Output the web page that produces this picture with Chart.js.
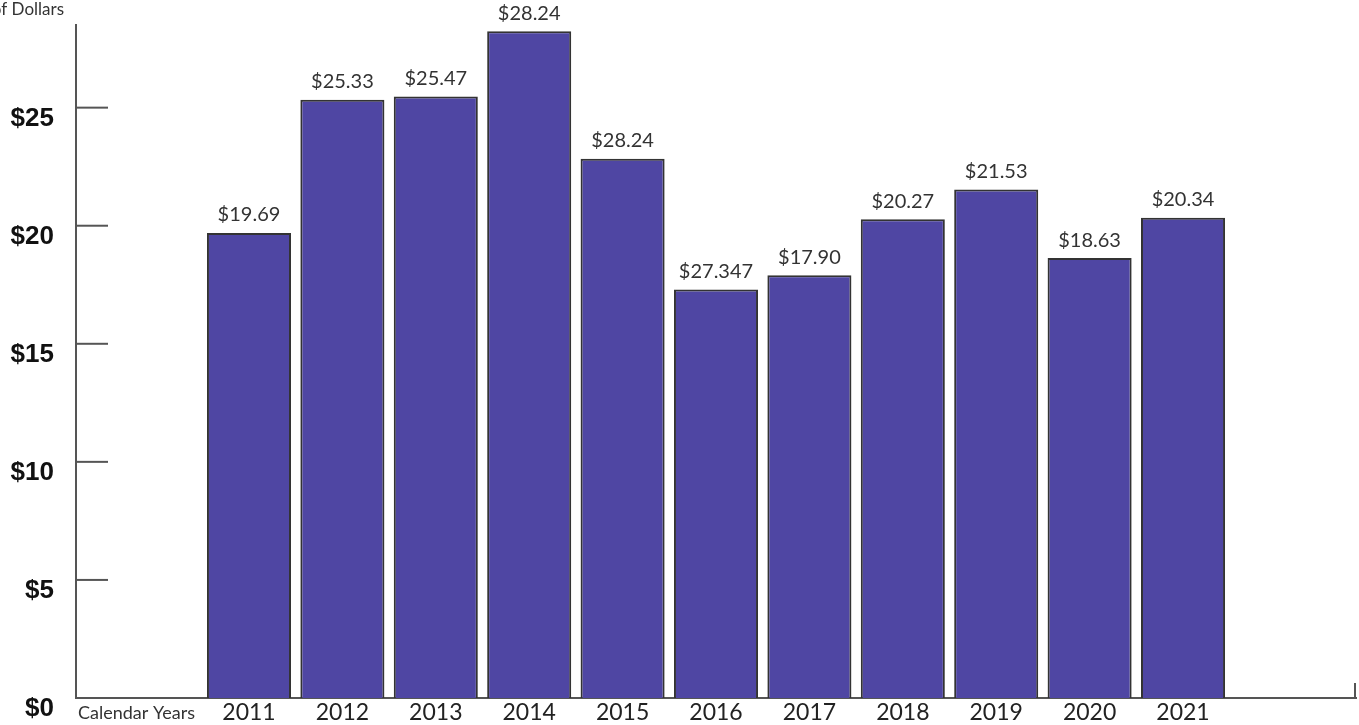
<!DOCTYPE html>
<html>
<head>
<meta charset="utf-8">
<script src="https://cdn.jsdelivr.net/npm/chart.js@4"></script>
<style>
  html, body { margin: 0; padding: 0; background: #fff; overflow: hidden; }
  #wrap { width: 1359px; height: 725px; }
</style>
</head>
<body>
<div id="wrap"><canvas id="grafico"></canvas></div>
<script>
// Datos del gráfico
const years = [2011, 2012, 2013, 2014, 2015, 2016, 2017, 2018, 2019, 2020, 2021];
const values = [19.69, 25.33, 25.47, 28.24, 22.84, 17.30, 17.90, 20.27, 21.53, 18.63, 20.34];
// etiquetas tal como aparecen sobre cada barra
const barLabels = ['$19.69', '$25.33', '$25.47', '$28.24', '$28.24', '$27.347', '$17.90', '$20.27', '$21.53', '$18.63', '$20.34'];
const yTicks = [0, 5, 10, 15, 20, 25];

const axisColor = '#555';

// ticks hacia adentro, etiquetas de barras y textos sueltos
const extras = {
    id: 'extras',
    afterDraw(chart) {
        const ctx = chart.ctx;
        const area = chart.chartArea;
        const yScale = chart.scales.y;
        ctx.save();
        ctx.strokeStyle = axisColor;
        ctx.lineWidth = 2;
        yTicks.forEach(v => {
            if (v === 0) return;
            const py = yScale.getPixelForValue(v);
            ctx.beginPath();
            ctx.moveTo(area.left, py);
            ctx.lineTo(area.left + 32, py);
            ctx.stroke();
        });
        // marca final del eje x
        ctx.beginPath();
        ctx.moveTo(area.right - 1, area.bottom);
        ctx.lineTo(area.right - 1, area.bottom - 15);
        ctx.stroke();

        // valores sobre las barras
        ctx.fillStyle = '#333';
        ctx.font = '20px Lato';
        ctx.textAlign = 'center';
        ctx.textBaseline = 'bottom';
        chart.getDatasetMeta(0).data.forEach((bar, i) => {
            ctx.fillText(barLabels[i], bar.x, bar.y - 8);
        });

        // titulos
        ctx.font = '18px Lato';
        ctx.textAlign = 'left';
        ctx.textBaseline = 'alphabetic';
        ctx.fillText('Calendar Years', area.left + 2, 719);
        ctx.font = '17px Lato';
        ctx.textAlign = 'right';
        ctx.textBaseline = 'middle';
        ctx.fillText('Millions of Dollars', 64, 10);
        ctx.restore();
    }
};

const ctxBarras = document.getElementById('grafico').getContext('2d');
new Chart(ctxBarras, {
    type: 'bar',
    data: {
        datasets: [{
            label: 'Dollars',
            data: years.map((yr, i) => ({ x: yr, y: values[i] })),
            backgroundColor: '#4f46a3',
            borderColor: '#333',
            borderWidth: 2,
            barPercentage: 0.9,
            categoryPercentage: 1
        }]
    },
    options: {
        responsive: true,
        maintainAspectRatio: false,
        animation: false,
        layout: { padding: { top: 25, right: 3, left: 0, bottom: 0 } },
        plugins: {
            legend: { display: false },
            tooltip: { enabled: false }
        },
        scales: {
            x: {
                type: 'linear',
                offset: false,
                min: 2011 - 1.852,
                max: 2021 + 1.852,
                afterBuildTicks: s => { s.ticks = years.map(v => ({ value: v })); },
                afterFit: s => { s.height = 27; s.paddingLeft = 0; s.paddingRight = 0; },
                grid: { display: false, drawTicks: false },
                border: { display: true, color: axisColor, width: 2 },
                ticks: {
                    color: '#222',
                    font: { family: 'Lato', size: 23 },
                    padding: 1,
                    maxRotation: 0,
                    autoSkip: false,
                    callback: v => String(v)
                }
            },
            y: {
                min: 0,
                max: 28.5,
                afterBuildTicks: s => { s.ticks = yTicks.map(v => ({ value: v })); },
                afterFit: s => { s.width = 76; s.paddingTop = 0; s.paddingBottom = 0; },
                grid: { display: false, drawTicks: false },
                border: { display: true, color: axisColor, width: 2 },
                ticks: {
                    color: '#111',
                    font: { family: 'Liberation Sans', size: 26, weight: 'bold' },
                    padding: 22,
                    labelOffset: 11,
                    callback: v => '$' + v
                }
            }
        }
    },
    plugins: [extras]
});
</script>
</body>
</html>
